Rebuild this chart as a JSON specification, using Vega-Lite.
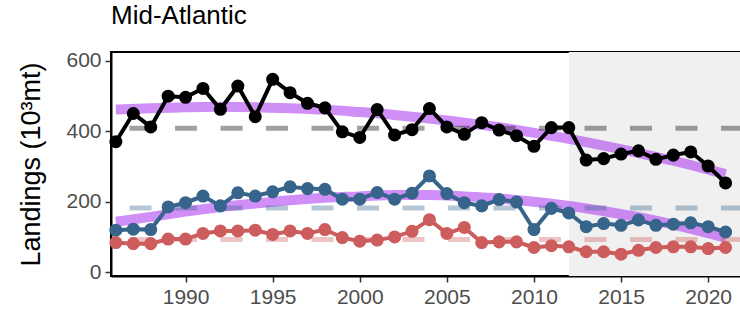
{
  "$schema": "https://vega.github.io/schema/vega-lite/v6.json",
  "autosize": "none",
  "width": 632,
  "height": 224,
  "padding": {"left": 111, "top": 52, "right": 0, "bottom": 36},
  "config": {
    "font": "Liberation Sans",
    "view": {"stroke": "black", "strokeWidth": 2},
    "axis": {"grid": false, "domainColor": "black", "domainWidth": 2, "tickColor": "#333333", "tickWidth": 1.5, "tickSize": 6, "labelColor": "#4D4D4D", "labelFontSize": 21, "labelFont": "Liberation Sans", "labelPadding": 4, "titleFont": "Liberation Sans"}
  },
  "title": {"text": "Mid-Atlantic", "anchor": "start", "frame": "group", "fontSize": 26, "fontWeight": "normal", "color": "black", "baseline": "alphabetic", "offset": 0},
  "datasets": {
    "shade": [{"x1": 2012, "x2": 2022}],
    "obs": [
      {"year": 1986, "series": "Total", "value": 370}, {"year": 1987, "series": "Total", "value": 450}, {"year": 1988, "series": "Total", "value": 412}, {"year": 1989, "series": "Total", "value": 499}, {"year": 1990, "series": "Total", "value": 496}, {"year": 1991, "series": "Total", "value": 521}, {"year": 1992, "series": "Total", "value": 462}, {"year": 1993, "series": "Total", "value": 528}, {"year": 1994, "series": "Total", "value": 441}, {"year": 1995, "series": "Total", "value": 547}, {"year": 1996, "series": "Total", "value": 509}, {"year": 1997, "series": "Total", "value": 479}, {"year": 1998, "series": "Total", "value": 466}, {"year": 1999, "series": "Total", "value": 398}, {"year": 2000, "series": "Total", "value": 382}, {"year": 2001, "series": "Total", "value": 461}, {"year": 2002, "series": "Total", "value": 389}, {"year": 2003, "series": "Total", "value": 404}, {"year": 2004, "series": "Total", "value": 464}, {"year": 2005, "series": "Total", "value": 412}, {"year": 2006, "series": "Total", "value": 391}, {"year": 2007, "series": "Total", "value": 424}, {"year": 2008, "series": "Total", "value": 403}, {"year": 2009, "series": "Total", "value": 387}, {"year": 2010, "series": "Total", "value": 357}, {"year": 2011, "series": "Total", "value": 410}, {"year": 2012, "series": "Total", "value": 410}, {"year": 2013, "series": "Total", "value": 318}, {"year": 2014, "series": "Total", "value": 322}, {"year": 2015, "series": "Total", "value": 335}, {"year": 2016, "series": "Total", "value": 344}, {"year": 2017, "series": "Total", "value": 320}, {"year": 2018, "series": "Total", "value": 332}, {"year": 2019, "series": "Total", "value": 341}, {"year": 2020, "series": "Total", "value": 301}, {"year": 2021, "series": "Total", "value": 253},
      {"year": 1986, "series": "Seafood", "value": 119}, {"year": 1987, "series": "Seafood", "value": 122}, {"year": 1988, "series": "Seafood", "value": 121}, {"year": 1989, "series": "Seafood", "value": 185}, {"year": 1990, "series": "Seafood", "value": 197}, {"year": 1991, "series": "Seafood", "value": 216}, {"year": 1992, "series": "Seafood", "value": 188}, {"year": 1993, "series": "Seafood", "value": 225}, {"year": 1994, "series": "Seafood", "value": 216}, {"year": 1995, "series": "Seafood", "value": 228}, {"year": 1996, "series": "Seafood", "value": 242}, {"year": 1997, "series": "Seafood", "value": 237}, {"year": 1998, "series": "Seafood", "value": 235}, {"year": 1999, "series": "Seafood", "value": 207}, {"year": 2000, "series": "Seafood", "value": 207}, {"year": 2001, "series": "Seafood", "value": 226}, {"year": 2002, "series": "Seafood", "value": 207}, {"year": 2003, "series": "Seafood", "value": 224}, {"year": 2004, "series": "Seafood", "value": 273}, {"year": 2005, "series": "Seafood", "value": 223}, {"year": 2006, "series": "Seafood", "value": 197}, {"year": 2007, "series": "Seafood", "value": 188}, {"year": 2008, "series": "Seafood", "value": 206}, {"year": 2009, "series": "Seafood", "value": 199}, {"year": 2010, "series": "Seafood", "value": 121}, {"year": 2011, "series": "Seafood", "value": 181}, {"year": 2012, "series": "Seafood", "value": 168}, {"year": 2013, "series": "Seafood", "value": 129}, {"year": 2014, "series": "Seafood", "value": 138}, {"year": 2015, "series": "Seafood", "value": 133}, {"year": 2016, "series": "Seafood", "value": 148}, {"year": 2017, "series": "Seafood", "value": 133}, {"year": 2018, "series": "Seafood", "value": 136}, {"year": 2019, "series": "Seafood", "value": 140}, {"year": 2020, "series": "Seafood", "value": 129}, {"year": 2021, "series": "Seafood", "value": 114},
      {"year": 1986, "series": "Managed", "value": 84}, {"year": 1987, "series": "Managed", "value": 81}, {"year": 1988, "series": "Managed", "value": 81}, {"year": 1989, "series": "Managed", "value": 94}, {"year": 1990, "series": "Managed", "value": 94}, {"year": 1991, "series": "Managed", "value": 110}, {"year": 1992, "series": "Managed", "value": 117}, {"year": 1993, "series": "Managed", "value": 117}, {"year": 1994, "series": "Managed", "value": 119}, {"year": 1995, "series": "Managed", "value": 107}, {"year": 1996, "series": "Managed", "value": 117}, {"year": 1997, "series": "Managed", "value": 110}, {"year": 1998, "series": "Managed", "value": 121}, {"year": 1999, "series": "Managed", "value": 98}, {"year": 2000, "series": "Managed", "value": 88}, {"year": 2001, "series": "Managed", "value": 91}, {"year": 2002, "series": "Managed", "value": 100}, {"year": 2003, "series": "Managed", "value": 116}, {"year": 2004, "series": "Managed", "value": 149}, {"year": 2005, "series": "Managed", "value": 110}, {"year": 2006, "series": "Managed", "value": 127}, {"year": 2007, "series": "Managed", "value": 84}, {"year": 2008, "series": "Managed", "value": 86}, {"year": 2009, "series": "Managed", "value": 86}, {"year": 2010, "series": "Managed", "value": 70}, {"year": 2011, "series": "Managed", "value": 75}, {"year": 2012, "series": "Managed", "value": 72}, {"year": 2013, "series": "Managed", "value": 58}, {"year": 2014, "series": "Managed", "value": 58}, {"year": 2015, "series": "Managed", "value": 51}, {"year": 2016, "series": "Managed", "value": 62}, {"year": 2017, "series": "Managed", "value": 70}, {"year": 2018, "series": "Managed", "value": 72}, {"year": 2019, "series": "Managed", "value": 72}, {"year": 2020, "series": "Managed", "value": 67}, {"year": 2021, "series": "Managed", "value": 70}
    ],
    "trend": [
      {"year": 1986, "series": "Total", "trend": 461}, {"year": 1988, "series": "Total", "trend": 465}, {"year": 1990, "series": "Total", "trend": 468}, {"year": 1992, "series": "Total", "trend": 469}, {"year": 1994, "series": "Total", "trend": 468}, {"year": 1996, "series": "Total", "trend": 465}, {"year": 1998, "series": "Total", "trend": 461}, {"year": 2000, "series": "Total", "trend": 454}, {"year": 2002, "series": "Total", "trend": 446}, {"year": 2004, "series": "Total", "trend": 436}, {"year": 2006, "series": "Total", "trend": 424}, {"year": 2008, "series": "Total", "trend": 411}, {"year": 2010, "series": "Total", "trend": 395}, {"year": 2012, "series": "Total", "trend": 378}, {"year": 2014, "series": "Total", "trend": 359}, {"year": 2016, "series": "Total", "trend": 338}, {"year": 2018, "series": "Total", "trend": 316}, {"year": 2020, "series": "Total", "trend": 291}, {"year": 2021, "series": "Total", "trend": 278},
      {"year": 1986, "series": "Seafood", "trend": 143}, {"year": 1988, "series": "Seafood", "trend": 157}, {"year": 1990, "series": "Seafood", "trend": 172}, {"year": 1992, "series": "Seafood", "trend": 185}, {"year": 1994, "series": "Seafood", "trend": 195}, {"year": 1996, "series": "Seafood", "trend": 204}, {"year": 1998, "series": "Seafood", "trend": 211}, {"year": 2000, "series": "Seafood", "trend": 215}, {"year": 2002, "series": "Seafood", "trend": 219}, {"year": 2004, "series": "Seafood", "trend": 219}, {"year": 2006, "series": "Seafood", "trend": 215}, {"year": 2008, "series": "Seafood", "trend": 209}, {"year": 2010, "series": "Seafood", "trend": 200}, {"year": 2012, "series": "Seafood", "trend": 188}, {"year": 2014, "series": "Seafood", "trend": 173}, {"year": 2016, "series": "Seafood", "trend": 156}, {"year": 2018, "series": "Seafood", "trend": 135}, {"year": 2020, "series": "Seafood", "trend": 111}, {"year": 2021, "series": "Seafood", "trend": 98}
    ],
    "means": [
      {"series": "Total", "mean": 408}, {"series": "Seafood", "mean": 182}, {"series": "Managed", "mean": 93}
    ]
  },
  "layer": [
    {
      "data": {"name": "shade"},
      "mark": {"type": "rect", "color": "#F0F0F0", "clip": true},
      "encoding": {
        "x": {"field": "x1", "type": "quantitative", "scale": {"domain": [1985.72, 2022.0], "nice": false, "zero": false}, "axis": {"values": [1990, 1995, 2000, 2005, 2010, 2015, 2020], "format": "d", "title": null}},
        "x2": {"field": "x2"}
      }
    },
    {
      "data": {"name": "trend"},
      "mark": {"type": "line", "color": "#A020F0", "opacity": 0.5, "strokeWidth": 10, "interpolate": "monotone", "clip": true},
      "encoding": {
        "x": {"field": "year", "type": "quantitative"},
        "y": {"field": "trend", "type": "quantitative", "scale": {"domain": [-10.8, 624.4], "nice": false, "zero": false}, "axis": {"values": [0, 200, 400, 600], "title": "Landings (10³mt)", "titleFontSize": 27, "titleFontWeight": "normal", "titleColor": "black", "titlePadding": 20}},
        "detail": {"field": "series"}
      }
    },
    {
      "data": {"name": "means"},
      "mark": {"type": "rule", "strokeWidth": 5, "strokeDash": [22, 23.5], "opacity": 0.37},
      "encoding": {
        "y": {"field": "mean", "type": "quantitative"},
        "color": {"field": "series", "type": "nominal", "scale": {"domain": ["Total", "Seafood", "Managed"], "range": ["#000000", "#36648B", "#CD5C5C"]}, "legend": null}
      }
    },
    {
      "data": {"name": "obs"},
      "mark": {"type": "line", "strokeWidth": 4},
      "encoding": {
        "x": {"field": "year", "type": "quantitative"},
        "y": {"field": "value", "type": "quantitative"},
        "color": {"field": "series", "type": "nominal", "legend": null}
      }
    },
    {
      "data": {"name": "obs"},
      "mark": {"type": "point", "filled": true, "opacity": 1, "size": 170},
      "encoding": {
        "x": {"field": "year", "type": "quantitative"},
        "y": {"field": "value", "type": "quantitative"},
        "color": {"field": "series", "type": "nominal", "legend": null}
      }
    }
  ]
}
